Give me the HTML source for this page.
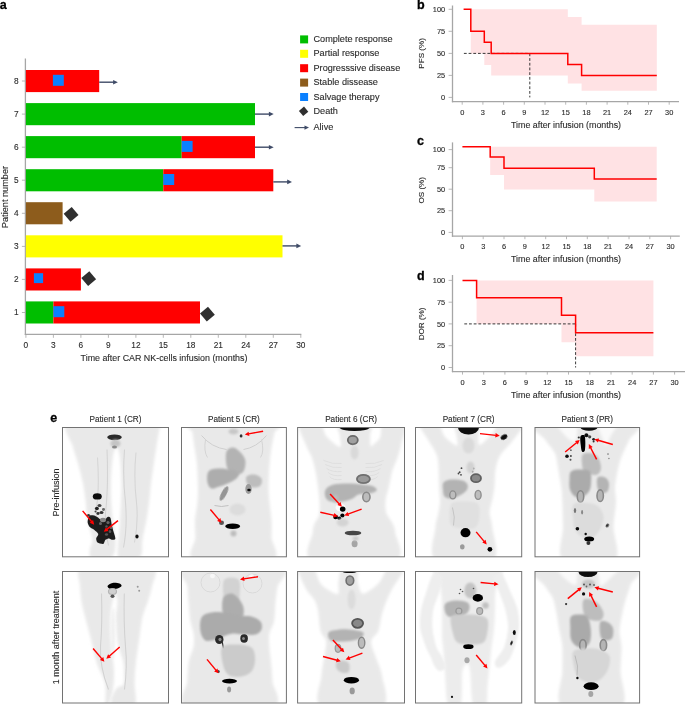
<!DOCTYPE html>
<html><head><meta charset="utf-8"><style>
html,body{margin:0;padding:0;background:#fff;width:685px;height:704px;overflow:hidden}
svg{display:block;will-change:transform}
text{font-family:"Liberation Sans",sans-serif;fill:#2b2b2b;stroke:#2b2b2b;stroke-width:0.12px}
.tk{font-size:7.4px}
.tka{font-size:8.3px}
.tt{font-size:8.9px}
.lg{font-size:9.15px}
.pl{font-size:12.5px;font-weight:bold;fill:#000;stroke:#000;stroke-width:0.3px}
.hd{font-size:8.2px}
</style></head><body>
<svg width="685" height="704" viewBox="0 0 685 704">
<g id="pa">
<line x1="25.4" y1="58.4" x2="25.4" y2="335" stroke="#a6a6a6" stroke-width="1.3"/>
<line x1="24.8" y1="334.4" x2="301.3" y2="334.4" stroke="#a6a6a6" stroke-width="1.3"/>
<line x1="25.9" y1="334.4" x2="25.9" y2="337.8" stroke="#a6a6a6" stroke-width="0.8"/>
<text x="25.9" y="348.0" class="tka" text-anchor="middle">0</text>
<line x1="53.4" y1="334.4" x2="53.4" y2="337.8" stroke="#a6a6a6" stroke-width="0.8"/>
<text x="53.4" y="348.0" class="tka" text-anchor="middle">3</text>
<line x1="80.9" y1="334.4" x2="80.9" y2="337.8" stroke="#a6a6a6" stroke-width="0.8"/>
<text x="80.9" y="348.0" class="tka" text-anchor="middle">6</text>
<line x1="108.4" y1="334.4" x2="108.4" y2="337.8" stroke="#a6a6a6" stroke-width="0.8"/>
<text x="108.4" y="348.0" class="tka" text-anchor="middle">9</text>
<line x1="135.9" y1="334.4" x2="135.9" y2="337.8" stroke="#a6a6a6" stroke-width="0.8"/>
<text x="135.9" y="348.0" class="tka" text-anchor="middle">12</text>
<line x1="163.3" y1="334.4" x2="163.3" y2="337.8" stroke="#a6a6a6" stroke-width="0.8"/>
<text x="163.3" y="348.0" class="tka" text-anchor="middle">15</text>
<line x1="190.8" y1="334.4" x2="190.8" y2="337.8" stroke="#a6a6a6" stroke-width="0.8"/>
<text x="190.8" y="348.0" class="tka" text-anchor="middle">18</text>
<line x1="218.3" y1="334.4" x2="218.3" y2="337.8" stroke="#a6a6a6" stroke-width="0.8"/>
<text x="218.3" y="348.0" class="tka" text-anchor="middle">21</text>
<line x1="245.8" y1="334.4" x2="245.8" y2="337.8" stroke="#a6a6a6" stroke-width="0.8"/>
<text x="245.8" y="348.0" class="tka" text-anchor="middle">24</text>
<line x1="273.3" y1="334.4" x2="273.3" y2="337.8" stroke="#a6a6a6" stroke-width="0.8"/>
<text x="273.3" y="348.0" class="tka" text-anchor="middle">27</text>
<line x1="300.8" y1="334.4" x2="300.8" y2="337.8" stroke="#a6a6a6" stroke-width="0.8"/>
<text x="300.8" y="348.0" class="tka" text-anchor="middle">30</text>
<line x1="21.9" y1="312.5" x2="25.5" y2="312.5" stroke="#a6a6a6" stroke-width="0.8"/>
<text x="18.6" y="315.3" class="tka" text-anchor="end">1</text>
<line x1="21.9" y1="279.4" x2="25.5" y2="279.4" stroke="#a6a6a6" stroke-width="0.8"/>
<text x="18.6" y="282.2" class="tka" text-anchor="end">2</text>
<line x1="21.9" y1="246.4" x2="25.5" y2="246.4" stroke="#a6a6a6" stroke-width="0.8"/>
<text x="18.6" y="249.2" class="tka" text-anchor="end">3</text>
<line x1="21.9" y1="213.3" x2="25.5" y2="213.3" stroke="#a6a6a6" stroke-width="0.8"/>
<text x="18.6" y="216.1" class="tka" text-anchor="end">4</text>
<line x1="21.9" y1="180.2" x2="25.5" y2="180.2" stroke="#a6a6a6" stroke-width="0.8"/>
<text x="18.6" y="183.0" class="tka" text-anchor="end">5</text>
<line x1="21.9" y1="147.2" x2="25.5" y2="147.2" stroke="#a6a6a6" stroke-width="0.8"/>
<text x="18.6" y="150.0" class="tka" text-anchor="end">6</text>
<line x1="21.9" y1="114.1" x2="25.5" y2="114.1" stroke="#a6a6a6" stroke-width="0.8"/>
<text x="18.6" y="116.9" class="tka" text-anchor="end">7</text>
<line x1="21.9" y1="81.0" x2="25.5" y2="81.0" stroke="#a6a6a6" stroke-width="0.8"/>
<text x="18.6" y="83.8" class="tka" text-anchor="end">8</text>
<rect x="25.9" y="70.0" width="73.3" height="22.1" fill="#ff0000"/>
<rect x="52.9" y="74.8" width="10.9" height="11.0" fill="#0a80ff"/>
<line x1="99.2" y1="82.2" x2="114.9" y2="82.2" stroke="#3f4b67" stroke-width="1.4"/>
<path d="M117.9,82.2 l-4.8,-2.3 l0,4.6 z" fill="#3f4b67"/>
<rect x="25.9" y="103.1" width="229.1" height="22.1" fill="#00be00"/>
<line x1="255.0" y1="114.1" x2="270.7" y2="114.1" stroke="#3f4b67" stroke-width="1.4"/>
<path d="M273.7,114.1 l-4.8,-2.3 l0,4.6 z" fill="#3f4b67"/>
<rect x="25.9" y="136.1" width="155.8" height="22.1" fill="#00be00"/>
<rect x="181.7" y="136.1" width="73.3" height="22.1" fill="#ff0000"/>
<rect x="181.7" y="140.9" width="10.9" height="11.0" fill="#0a80ff"/>
<line x1="255.0" y1="147.2" x2="270.7" y2="147.2" stroke="#3f4b67" stroke-width="1.4"/>
<path d="M273.7,147.2 l-4.8,-2.3 l0,4.6 z" fill="#3f4b67"/>
<rect x="25.9" y="169.2" width="137.4" height="22.1" fill="#00be00"/>
<rect x="163.3" y="169.2" width="110.0" height="22.1" fill="#ff0000"/>
<rect x="163.3" y="174.0" width="10.9" height="11.0" fill="#0a80ff"/>
<line x1="273.3" y1="181.9" x2="289.0" y2="181.9" stroke="#3f4b67" stroke-width="1.4"/>
<path d="M292.0,181.9 l-4.8,-2.3 l0,4.6 z" fill="#3f4b67"/>
<rect x="25.9" y="202.2" width="36.7" height="22.1" fill="#8d5c1c"/>
<polygon points="78.5,214.9 70.5,221.7 63.7,213.7 71.7,206.9" fill="#2f2f2f"/>
<rect x="25.9" y="235.3" width="256.6" height="22.1" fill="#ffff00"/>
<line x1="282.5" y1="245.9" x2="298.2" y2="245.9" stroke="#3f4b67" stroke-width="1.4"/>
<path d="M301.2,245.9 l-4.8,-2.3 l0,4.6 z" fill="#3f4b67"/>
<rect x="25.9" y="268.4" width="55.0" height="22.1" fill="#ff0000"/>
<rect x="33.9" y="273.2" width="9.2" height="9.9" fill="#0a80ff"/>
<polygon points="96.1,279.3 88.1,286.1 81.3,278.1 89.3,271.3" fill="#2f2f2f"/>
<rect x="25.9" y="301.4" width="27.5" height="22.1" fill="#00be00"/>
<rect x="53.4" y="301.4" width="146.6" height="22.1" fill="#ff0000"/>
<rect x="53.4" y="306.2" width="10.9" height="11.0" fill="#0a80ff"/>
<polygon points="214.8,314.8 206.8,321.6 200.0,313.6 208.0,306.8" fill="#2f2f2f"/>
<text x="164" y="361.0" class="tt" text-anchor="middle">Time after CAR NK-cells infusion (months)</text>
<text transform="translate(8.4,197) rotate(-90)" class="tt" style="font-size:9.2px" text-anchor="middle">Patient number</text>
<rect x="300.1" y="35.4" width="8" height="8" fill="#00be00"/>
<text x="313.5" y="42.0" class="lg">Complete response</text>
<rect x="300.1" y="49.8" width="8" height="8" fill="#ffff00"/>
<text x="313.5" y="56.4" class="lg">Partial response</text>
<rect x="300.1" y="64.2" width="8" height="8" fill="#ff0000"/>
<text x="313.5" y="70.8" class="lg">Progresssive disease</text>
<rect x="300.1" y="78.6" width="8" height="8" fill="#8d5c1c"/>
<text x="313.5" y="85.2" class="lg">Stable dissease</text>
<rect x="300.1" y="93.0" width="8" height="8" fill="#0a80ff"/>
<text x="313.5" y="99.6" class="lg">Salvage therapy</text>
<polygon points="308.3,111.7 303.2,116.0 298.9,110.9 304.0,106.6" fill="#2f2f2f"/>
<text x="313.5" y="113.9" class="lg">Death</text>
<line x1="294.6" y1="127.6" x2="306" y2="127.6" stroke="#3f4b67" stroke-width="1.1"/>
<path d="M309,127.6 l-4.5,-2.2 l0,4.4 z" fill="#3f4b67"/>
<text x="313.5" y="130.2" class="lg">Alive</text>
<text x="-0.3" y="9.2" class="pl">a</text>
</g>
<g>
<path d="M470.8,9.3 L470.8,9.3 L484.3,9.3 L484.3,9.3 L491.2,9.3 L491.2,9.3 L567.8,9.3 L567.8,16.9 L581.6,16.9 L581.6,24.8 L656.8,24.8 L656.8,90.7 L581.6,90.7 L581.6,83.6 L567.8,83.6 L567.8,75.6 L491.2,75.6 L491.2,65.1 L484.3,65.1 L484.3,53.4 L470.8,53.4 Z" fill="#ffe2e4"/>
<line x1="452.5" y1="5.5" x2="452.5" y2="102.3" stroke="#a6a6a6" stroke-width="1.3"/>
<line x1="451.9" y1="101.7" x2="679" y2="101.7" stroke="#a6a6a6" stroke-width="1.3"/>
<line x1="448.6" y1="97.4" x2="452.6" y2="97.4" stroke="#a6a6a6" stroke-width="0.8"/>
<text x="445.2" y="100.0" class="tk" text-anchor="end">0</text>
<line x1="448.6" y1="75.4" x2="452.6" y2="75.4" stroke="#a6a6a6" stroke-width="0.8"/>
<text x="445.2" y="78.0" class="tk" text-anchor="end">25</text>
<line x1="448.6" y1="53.4" x2="452.6" y2="53.4" stroke="#a6a6a6" stroke-width="0.8"/>
<text x="445.2" y="56.0" class="tk" text-anchor="end">50</text>
<line x1="448.6" y1="31.3" x2="452.6" y2="31.3" stroke="#a6a6a6" stroke-width="0.8"/>
<text x="445.2" y="33.9" class="tk" text-anchor="end">75</text>
<line x1="448.6" y1="9.3" x2="452.6" y2="9.3" stroke="#a6a6a6" stroke-width="0.8"/>
<text x="445.2" y="11.9" class="tk" text-anchor="end">100</text>
<line x1="462.2" y1="101.7" x2="462.2" y2="104.7" stroke="#a6a6a6" stroke-width="0.8"/>
<text x="462.2" y="115.0" class="tk" text-anchor="middle">0</text>
<line x1="482.9" y1="101.7" x2="482.9" y2="104.7" stroke="#a6a6a6" stroke-width="0.8"/>
<text x="482.9" y="115.0" class="tk" text-anchor="middle">3</text>
<line x1="503.6" y1="101.7" x2="503.6" y2="104.7" stroke="#a6a6a6" stroke-width="0.8"/>
<text x="503.6" y="115.0" class="tk" text-anchor="middle">6</text>
<line x1="524.3" y1="101.7" x2="524.3" y2="104.7" stroke="#a6a6a6" stroke-width="0.8"/>
<text x="524.3" y="115.0" class="tk" text-anchor="middle">9</text>
<line x1="545.0" y1="101.7" x2="545.0" y2="104.7" stroke="#a6a6a6" stroke-width="0.8"/>
<text x="545.0" y="115.0" class="tk" text-anchor="middle">12</text>
<line x1="565.7" y1="101.7" x2="565.7" y2="104.7" stroke="#a6a6a6" stroke-width="0.8"/>
<text x="565.7" y="115.0" class="tk" text-anchor="middle">15</text>
<line x1="586.4" y1="101.7" x2="586.4" y2="104.7" stroke="#a6a6a6" stroke-width="0.8"/>
<text x="586.4" y="115.0" class="tk" text-anchor="middle">18</text>
<line x1="607.1" y1="101.7" x2="607.1" y2="104.7" stroke="#a6a6a6" stroke-width="0.8"/>
<text x="607.1" y="115.0" class="tk" text-anchor="middle">21</text>
<line x1="627.8" y1="101.7" x2="627.8" y2="104.7" stroke="#a6a6a6" stroke-width="0.8"/>
<text x="627.8" y="115.0" class="tk" text-anchor="middle">24</text>
<line x1="648.5" y1="101.7" x2="648.5" y2="104.7" stroke="#a6a6a6" stroke-width="0.8"/>
<text x="648.5" y="115.0" class="tk" text-anchor="middle">27</text>
<line x1="669.2" y1="101.7" x2="669.2" y2="104.7" stroke="#a6a6a6" stroke-width="0.8"/>
<text x="669.2" y="115.0" class="tk" text-anchor="middle">30</text>
<line x1="463.9" y1="53.4" x2="529.8" y2="53.4" stroke="#222" stroke-width="0.9" stroke-dasharray="2.8,1.9"/>
<line x1="529.8" y1="53.4" x2="529.8" y2="97.4" stroke="#222" stroke-width="0.9" stroke-dasharray="2.8,1.9"/>
<polyline points="463.6,9.3 470.8,9.3 470.8,31.3 484.3,31.3 484.3,42.3 491.2,42.3 491.2,53.4 567.8,53.4 567.8,64.4 581.6,64.4 581.6,75.4 656.8,75.4" fill="none" stroke="#ff0000" stroke-width="1.5"/>
<text x="566" y="127.8" class="tt" text-anchor="middle">Time after infusion (months)</text>
<text transform="translate(424.2,53.4) rotate(-90)" class="tt" style="font-size:8.1px" text-anchor="middle">PFS (%)</text>
<text x="417" y="8.8" class="pl">b</text>
</g>
<g>
<path d="M490.2,146.8 L490.2,146.8 L504.0,146.8 L504.0,146.8 L594.3,146.8 L594.3,146.8 L656.7,146.8 L656.7,201.6 L594.3,201.6 L594.3,189.6 L504.0,189.6 L504.0,175.0 L490.2,175.0 Z" fill="#ffe2e4"/>
<line x1="452.5" y1="142.4" x2="452.5" y2="236.79999999999998" stroke="#a6a6a6" stroke-width="1.3"/>
<line x1="451.9" y1="236.2" x2="679.8" y2="236.2" stroke="#a6a6a6" stroke-width="1.3"/>
<line x1="448.6" y1="232.4" x2="452.6" y2="232.4" stroke="#a6a6a6" stroke-width="0.8"/>
<text x="445.2" y="235.0" class="tk" text-anchor="end">0</text>
<line x1="448.6" y1="210.7" x2="452.6" y2="210.7" stroke="#a6a6a6" stroke-width="0.8"/>
<text x="445.2" y="213.3" class="tk" text-anchor="end">25</text>
<line x1="448.6" y1="189.2" x2="452.6" y2="189.2" stroke="#a6a6a6" stroke-width="0.8"/>
<text x="445.2" y="191.8" class="tk" text-anchor="end">50</text>
<line x1="448.6" y1="167.7" x2="452.6" y2="167.7" stroke="#a6a6a6" stroke-width="0.8"/>
<text x="445.2" y="170.3" class="tk" text-anchor="end">75</text>
<line x1="448.6" y1="149.6" x2="452.6" y2="149.6" stroke="#a6a6a6" stroke-width="0.8"/>
<text x="445.2" y="152.2" class="tk" text-anchor="end">100</text>
<line x1="462.4" y1="236.2" x2="462.4" y2="239.2" stroke="#a6a6a6" stroke-width="0.8"/>
<text x="462.4" y="248.7" class="tk" text-anchor="middle">0</text>
<line x1="483.2" y1="236.2" x2="483.2" y2="239.2" stroke="#a6a6a6" stroke-width="0.8"/>
<text x="483.2" y="248.7" class="tk" text-anchor="middle">3</text>
<line x1="504.0" y1="236.2" x2="504.0" y2="239.2" stroke="#a6a6a6" stroke-width="0.8"/>
<text x="504.0" y="248.7" class="tk" text-anchor="middle">6</text>
<line x1="524.9" y1="236.2" x2="524.9" y2="239.2" stroke="#a6a6a6" stroke-width="0.8"/>
<text x="524.9" y="248.7" class="tk" text-anchor="middle">9</text>
<line x1="545.7" y1="236.2" x2="545.7" y2="239.2" stroke="#a6a6a6" stroke-width="0.8"/>
<text x="545.7" y="248.7" class="tk" text-anchor="middle">12</text>
<line x1="566.5" y1="236.2" x2="566.5" y2="239.2" stroke="#a6a6a6" stroke-width="0.8"/>
<text x="566.5" y="248.7" class="tk" text-anchor="middle">15</text>
<line x1="587.3" y1="236.2" x2="587.3" y2="239.2" stroke="#a6a6a6" stroke-width="0.8"/>
<text x="587.3" y="248.7" class="tk" text-anchor="middle">18</text>
<line x1="608.1" y1="236.2" x2="608.1" y2="239.2" stroke="#a6a6a6" stroke-width="0.8"/>
<text x="608.1" y="248.7" class="tk" text-anchor="middle">21</text>
<line x1="629.0" y1="236.2" x2="629.0" y2="239.2" stroke="#a6a6a6" stroke-width="0.8"/>
<text x="629.0" y="248.7" class="tk" text-anchor="middle">24</text>
<line x1="649.8" y1="236.2" x2="649.8" y2="239.2" stroke="#a6a6a6" stroke-width="0.8"/>
<text x="649.8" y="248.7" class="tk" text-anchor="middle">27</text>
<line x1="670.6" y1="236.2" x2="670.6" y2="239.2" stroke="#a6a6a6" stroke-width="0.8"/>
<text x="670.6" y="248.7" class="tk" text-anchor="middle">30</text>
<polyline points="462.4,146.8 490.2,146.8 490.2,157.1 504.0,157.1 504.0,168.2 594.3,168.2 594.3,178.9 656.7,178.9" fill="none" stroke="#ff0000" stroke-width="1.5"/>
<text x="566" y="262.1" class="tt" text-anchor="middle">Time after infusion (months)</text>
<text transform="translate(424.2,190.3) rotate(-90)" class="tt" style="font-size:8.1px" text-anchor="middle">OS (%)</text>
<text x="417" y="145" class="pl">c</text>
</g>
<g>
<path d="M476.6,280.4 L476.6,280.4 L561.5,280.4 L561.5,280.4 L575.6,280.4 L575.6,280.4 L653.4,280.4 L653.4,356.2 L575.6,356.2 L575.6,342.2 L561.5,342.2 L561.5,323.9 L476.6,323.9 Z" fill="#ffe2e4"/>
<line x1="452.5" y1="275" x2="452.5" y2="372.20000000000005" stroke="#a6a6a6" stroke-width="1.3"/>
<line x1="451.9" y1="371.6" x2="685" y2="371.6" stroke="#a6a6a6" stroke-width="1.3"/>
<line x1="448.6" y1="367.5" x2="452.6" y2="367.5" stroke="#a6a6a6" stroke-width="0.8"/>
<text x="445.2" y="370.1" class="tk" text-anchor="end">0</text>
<line x1="448.6" y1="345.7" x2="452.6" y2="345.7" stroke="#a6a6a6" stroke-width="0.8"/>
<text x="445.2" y="348.3" class="tk" text-anchor="end">25</text>
<line x1="448.6" y1="323.9" x2="452.6" y2="323.9" stroke="#a6a6a6" stroke-width="0.8"/>
<text x="445.2" y="326.6" class="tk" text-anchor="end">50</text>
<line x1="448.6" y1="302.2" x2="452.6" y2="302.2" stroke="#a6a6a6" stroke-width="0.8"/>
<text x="445.2" y="304.8" class="tk" text-anchor="end">75</text>
<line x1="448.6" y1="280.4" x2="452.6" y2="280.4" stroke="#a6a6a6" stroke-width="0.8"/>
<text x="445.2" y="283.0" class="tk" text-anchor="end">100</text>
<line x1="462.5" y1="371.6" x2="462.5" y2="374.6" stroke="#a6a6a6" stroke-width="0.8"/>
<text x="462.5" y="384.6" class="tk" text-anchor="middle">0</text>
<line x1="483.7" y1="371.6" x2="483.7" y2="374.6" stroke="#a6a6a6" stroke-width="0.8"/>
<text x="483.7" y="384.6" class="tk" text-anchor="middle">3</text>
<line x1="504.9" y1="371.6" x2="504.9" y2="374.6" stroke="#a6a6a6" stroke-width="0.8"/>
<text x="504.9" y="384.6" class="tk" text-anchor="middle">6</text>
<line x1="526.1" y1="371.6" x2="526.1" y2="374.6" stroke="#a6a6a6" stroke-width="0.8"/>
<text x="526.1" y="384.6" class="tk" text-anchor="middle">9</text>
<line x1="547.3" y1="371.6" x2="547.3" y2="374.6" stroke="#a6a6a6" stroke-width="0.8"/>
<text x="547.3" y="384.6" class="tk" text-anchor="middle">12</text>
<line x1="568.5" y1="371.6" x2="568.5" y2="374.6" stroke="#a6a6a6" stroke-width="0.8"/>
<text x="568.5" y="384.6" class="tk" text-anchor="middle">15</text>
<line x1="589.8" y1="371.6" x2="589.8" y2="374.6" stroke="#a6a6a6" stroke-width="0.8"/>
<text x="589.8" y="384.6" class="tk" text-anchor="middle">18</text>
<line x1="611.0" y1="371.6" x2="611.0" y2="374.6" stroke="#a6a6a6" stroke-width="0.8"/>
<text x="611.0" y="384.6" class="tk" text-anchor="middle">21</text>
<line x1="632.2" y1="371.6" x2="632.2" y2="374.6" stroke="#a6a6a6" stroke-width="0.8"/>
<text x="632.2" y="384.6" class="tk" text-anchor="middle">24</text>
<line x1="653.4" y1="371.6" x2="653.4" y2="374.6" stroke="#a6a6a6" stroke-width="0.8"/>
<text x="653.4" y="384.6" class="tk" text-anchor="middle">27</text>
<line x1="674.6" y1="371.6" x2="674.6" y2="374.6" stroke="#a6a6a6" stroke-width="0.8"/>
<text x="674.6" y="384.6" class="tk" text-anchor="middle">30</text>
<line x1="464.3" y1="323.9" x2="575.6" y2="323.9" stroke="#222" stroke-width="0.9" stroke-dasharray="2.8,1.9"/>
<line x1="575.6" y1="323.9" x2="575.6" y2="367.5" stroke="#222" stroke-width="0.9" stroke-dasharray="2.8,1.9"/>
<polyline points="462.5,280.4 476.6,280.4 476.6,297.8 561.5,297.8 561.5,315.2 575.6,315.2 575.6,332.7 653.4,332.7" fill="none" stroke="#ff0000" stroke-width="1.5"/>
<text x="566" y="397.8" class="tt" text-anchor="middle">Time after infusion (months)</text>
<text transform="translate(424.2,323.9) rotate(-90)" class="tt" style="font-size:8.1px" text-anchor="middle">DOR (%)</text>
<text x="417" y="279.7" class="pl">d</text>
</g>
<defs><filter id="b2" x="-30%" y="-30%" width="160%" height="160%"><feGaussianBlur stdDeviation="1.7"/></filter><filter id="b1" x="-30%" y="-30%" width="160%" height="160%"><feGaussianBlur stdDeviation="0.9"/></filter><filter id="b05" x="-50%" y="-50%" width="200%" height="200%"><feGaussianBlur stdDeviation="0.45"/></filter><filter id="b07" x="-50%" y="-50%" width="200%" height="200%"><feGaussianBlur stdDeviation="0.7"/></filter></defs>
<clipPath id="c00"><rect x="0" y="0" width="106.0" height="129.3"/></clipPath>
<g transform="translate(62.5,427.5)"><g clip-path="url(#c00)">
<path d="M5.0,-4.0 C11.9,-7.4 48.5,-7.0 56.0,-4.0 C63.5,-1.0 55.8,11.2 55.0,16.0 C54.2,20.8 51.5,22.0 50.5,28.0 C49.5,34.0 48.5,47.6 48.3,56.0 C48.1,64.4 48.7,76.7 49.3,84.0 C49.9,91.3 51.4,99.9 52.0,105.0 C52.6,110.1 53.3,114.4 53.0,118.0 C52.7,121.6 52.2,126.8 50.0,129.0 C47.8,131.2 41.3,132.8 38.0,133.0 C34.7,133.2 29.6,131.8 28.0,130.0 C26.4,128.2 27.2,123.7 27.5,121.0 C27.8,118.3 30.2,116.2 29.8,112.0 C29.4,107.8 26.1,98.6 25.1,93.0 C24.1,87.4 24.0,80.0 23.3,74.5 C22.6,69.0 21.6,61.6 20.5,56.0 C19.4,50.4 17.3,42.6 15.8,37.0 C14.3,31.4 11.8,24.8 10.2,18.6 C8.6,12.5 -1.9,-0.6 5.0,-4.0 Z" fill="#e9e9e9" filter="url(#b2)"/>
<path d="M50.0,-4.0 C56.6,-7.0 91.0,-4.9 98.0,-4.0 C105.0,-3.1 97.4,-1.4 96.8,2.0 C96.2,5.4 94.8,13.4 94.0,18.6 C93.2,23.9 92.0,31.4 91.2,37.0 C90.4,42.6 89.2,50.4 88.5,56.0 C87.8,61.6 87.3,69.0 86.6,74.5 C85.9,80.0 84.8,87.4 83.8,93.0 C82.8,98.6 80.8,106.8 80.0,112.0 C79.2,117.2 80.4,124.8 78.6,128.0 C76.8,131.2 71.4,132.7 68.0,133.0 C64.6,133.3 57.9,132.2 56.0,130.0 C54.1,127.8 55.3,122.8 55.5,118.0 C55.7,113.2 56.8,104.5 57.3,98.0 C57.8,91.5 58.2,81.3 58.5,75.0 C58.8,68.7 59.1,62.8 59.0,56.0 C58.9,49.2 58.2,36.0 57.5,30.0 C56.8,24.0 55.1,21.1 54.0,16.0 C52.9,10.9 43.4,-1.0 50.0,-4.0 Z" fill="#e9e9e9" filter="url(#b2)"/>
<path d="M35,30 Q37,60 34,80 Q33,95 37,110" stroke="#d6d6d6" stroke-width="1.1" fill="none" filter="url(#b05)"/>
<path d="M44.5,22 Q46,60 43,85 Q42,100 46,118" stroke="#d4d4d4" stroke-width="1.1" fill="none" filter="url(#b05)"/>
<path d="M62,22 Q60,50 63,75 Q65,100 61,120" stroke="#d4d4d4" stroke-width="1.1" fill="none" filter="url(#b05)"/>
<path d="M73.5,25 Q71,50 74,75 Q76,95 72,115" stroke="#d6d6d6" stroke-width="1.1" fill="none" filter="url(#b05)"/>
<ellipse cx="52" cy="9.8" rx="7.3" ry="2.9" fill="#2a2a2a" filter="url(#b05)"/>
<ellipse cx="53" cy="16" rx="5" ry="4" fill="#c4c4c4" filter="url(#b1)"/>
<ellipse cx="52" cy="19.5" rx="2.5" ry="1.6" fill="#8a8a8a" filter="url(#b05)"/>
<ellipse cx="34.8" cy="68.9" rx="4.5" ry="3.2" fill="#111" filter="url(#b05)"/>
<path d="M25.5,91.7 C25.8,90.8 26.5,88.6 27.3,88.1 C28.1,87.6 30.5,87.8 31.6,88.1 C32.7,88.4 34.6,89.5 35.8,90.3 C37.0,91.1 39.6,93.9 40.8,93.8 C42.0,93.7 44.2,90.0 45.1,89.5 C46.0,89.0 47.3,89.2 47.9,90.3 C48.5,91.4 48.9,95.7 49.3,97.4 C49.7,99.1 50.2,101.2 50.7,103.0 C51.2,104.8 53.0,109.7 52.9,110.9 C52.8,112.1 50.9,112.3 50.0,112.3 C49.1,112.3 47.4,110.9 46.5,110.9 C45.6,110.9 43.7,111.6 42.9,112.3 C42.1,113.0 41.8,116.1 40.8,116.5 C39.8,116.9 36.0,115.8 35.1,115.1 C34.2,114.4 33.6,112.0 33.7,110.9 C33.8,109.8 36.1,107.7 35.8,106.6 C35.5,105.5 32.7,103.2 31.6,102.3 C30.5,101.4 28.2,100.4 27.3,99.5 C26.4,98.6 25.4,96.2 25.2,95.2 C25.0,94.2 25.2,92.6 25.5,91.7 Z" fill="#1e1e1e" filter="url(#b05)"/>
<ellipse cx="40.5" cy="92.5" rx="3" ry="2.2" fill="#888" filter="url(#b05)"/>
<ellipse cx="38" cy="96" rx="1.5" ry="1.5" fill="#666" filter="url(#b05)"/>
<ellipse cx="44" cy="107" rx="1.6" ry="1.3" fill="#555" filter="url(#b05)"/>
<ellipse cx="48.5" cy="100" rx="1.2" ry="1.6" fill="#666" filter="url(#b05)"/>
<ellipse cx="45.5" cy="95" rx="1.6" ry="1.6" fill="#666" filter="url(#b05)"/>
<ellipse cx="47.5" cy="104" rx="1.3" ry="1.5" fill="#555" filter="url(#b05)"/>
<ellipse cx="44" cy="99" rx="1.2" ry="1.2" fill="#555" filter="url(#b05)"/>
<ellipse cx="34.4" cy="81" rx="2" ry="1.8" fill="#222" filter="url(#b05)"/>
<ellipse cx="37" cy="78" rx="2" ry="1.6" fill="#444" filter="url(#b05)"/>
<ellipse cx="39" cy="85" rx="2" ry="1.6" fill="#333" filter="url(#b05)"/>
<ellipse cx="41" cy="82" rx="1.5" ry="1.4" fill="#666" filter="url(#b05)"/>
<ellipse cx="35.5" cy="86" rx="1.6" ry="1.4" fill="#333" filter="url(#b05)"/>
<ellipse cx="33" cy="84" rx="1" ry="1" fill="#444" filter="url(#b05)"/>
<ellipse cx="26" cy="87.8" rx="1.4" ry="1.4" fill="#333" filter="url(#b05)"/>
<ellipse cx="74.5" cy="109" rx="1.6" ry="2" fill="#111" filter="url(#b05)"/>
<line x1="20.1" y1="83.4" x2="29.3" y2="94.3" stroke="#f00" stroke-width="1.45"/>
<path d="M31.7,97.2 L27.2,95.3 L30.6,92.5 Z" fill="#f00"/>
<line x1="55.5" y1="93.1" x2="44.3" y2="101.9" stroke="#f00" stroke-width="1.45"/>
<path d="M41.3,104.3 L43.3,99.9 L46.0,103.4 Z" fill="#f00"/>
</g>
<rect x="0" y="0" width="106.0" height="129.3" fill="none" stroke="#727272" stroke-width="1"/>
</g>
<clipPath id="c10"><rect x="0" y="0" width="104.9" height="129.3"/></clipPath>
<g transform="translate(181.5,427.5)"><g clip-path="url(#c10)">
<path d="M10.0,-4.0 C22.6,-5.3 82.5,-5.3 95.0,-4.0 C107.5,-2.7 93.8,1.4 93.0,5.0 C92.2,8.6 90.8,15.2 90.0,20.0 C89.2,24.8 88.5,31.0 88.0,37.0 C87.5,43.0 87.0,54.3 87.0,60.0 C87.0,65.7 87.5,70.0 88.0,75.0 C88.5,80.0 89.7,87.8 90.0,93.0 C90.3,98.2 90.0,104.0 90.0,110.0 C90.0,116.0 101.4,129.6 90.0,133.0 C78.6,136.4 25.4,136.4 14.0,133.0 C2.6,129.6 14.1,116.0 14.0,110.0 C13.9,104.0 13.2,98.2 13.5,93.0 C13.8,87.8 15.6,80.0 16.0,75.0 C16.4,70.0 16.6,65.7 16.5,60.0 C16.4,54.3 16.0,43.0 15.5,37.0 C15.0,31.0 13.7,24.8 13.0,20.0 C12.3,15.2 11.4,8.6 11.0,5.0 C10.6,1.4 -2.6,-2.7 10.0,-4.0 Z" fill="#e9e9e9" filter="url(#b2)"/>
<path d="M20,8 Q30,20 45,22" stroke="#cfcfcf" stroke-width="1.0" fill="none" filter="url(#b05)"/>
<path d="M85,8 Q75,20 62,22" stroke="#cfcfcf" stroke-width="1.0" fill="none" filter="url(#b05)"/>
<path d="M24,12 Q22,24 26,30" stroke="#d4d4d4" stroke-width="1.0" fill="none" filter="url(#b05)"/>
<path d="M80,12 Q83,24 79,30" stroke="#d4d4d4" stroke-width="1.0" fill="none" filter="url(#b05)"/>
<path d="M56,112 L56,133" stroke="#f6f6f6" stroke-width="2" fill="none" filter="url(#b1)"/>
<path d="M45.0,24.0 C46.2,21.0 49.5,19.7 52.0,20.0 C54.5,20.3 58.0,23.7 60.0,26.0 C62.0,28.3 63.7,31.0 64.0,34.0 C64.3,37.0 63.3,41.8 62.0,44.0 C60.7,46.2 58.2,46.7 56.0,47.0 C53.8,47.3 50.8,47.5 49.0,46.0 C47.2,44.5 45.7,41.7 45.0,38.0 C44.3,34.3 43.8,27.0 45.0,24.0 Z" fill="#b3b3b3" filter="url(#b1)"/>
<path d="M27.0,44.0 C28.7,41.7 32.5,41.3 36.0,41.0 C39.5,40.7 44.5,41.3 48.0,42.0 C51.5,42.7 55.8,43.5 57.0,45.0 C58.2,46.5 56.8,49.2 55.0,51.0 C53.2,52.8 48.8,54.7 46.0,56.0 C43.2,57.3 40.7,58.2 38.0,59.0 C35.3,59.8 32.0,61.7 30.0,61.0 C28.0,60.3 26.5,57.8 26.0,55.0 C25.5,52.2 25.3,46.3 27.0,44.0 Z" fill="#adadad" filter="url(#b1)"/>
<path d="M65.0,49.0 C66.2,47.3 70.5,46.7 73.0,47.0 C75.5,47.3 79.0,49.2 80.0,51.0 C81.0,52.8 80.3,56.5 79.0,58.0 C77.7,59.5 74.2,60.2 72.0,60.0 C69.8,59.8 67.2,58.8 66.0,57.0 C64.8,55.2 63.8,50.7 65.0,49.0 Z" fill="#bdbdbd" filter="url(#b1)"/>
<ellipse cx="42.5" cy="66" rx="2.6" ry="8" fill="#959595" filter="url(#b07)" transform="rotate(28 42.5 66)"/>
<ellipse cx="67" cy="61.5" rx="3.2" ry="5" fill="#9a9a9a" filter="url(#b07)"/>
<ellipse cx="67.5" cy="62.5" rx="1.8" ry="1.2" fill="#111" filter="url(#b05)"/>
<ellipse cx="56" cy="82" rx="8" ry="6" fill="#dcdcdc" filter="url(#b1)"/>
<path d="M33,78 Q40,80 47,78" stroke="#bbb" stroke-width="0.9" fill="none" filter="url(#b05)"/>
<ellipse cx="51.2" cy="98.7" rx="7.5" ry="2.8" fill="#000" filter="url(#b05)"/>
<ellipse cx="40" cy="95.3" rx="2.5" ry="2.2" fill="#555" filter="url(#b07)"/>
<ellipse cx="52" cy="106" rx="3" ry="3" fill="#bcbcbc" filter="url(#b1)"/>
<ellipse cx="59.6" cy="8.4" rx="1.4" ry="1.6" fill="#333" filter="url(#b05)"/>
<ellipse cx="52" cy="4" rx="5" ry="3" fill="#c8c8c8" filter="url(#b1)"/>
<line x1="81.6" y1="3.7" x2="67.0" y2="6.4" stroke="#f00" stroke-width="1.45"/>
<path d="M63.3,7.1 L67.1,4.2 L67.9,8.5 Z" fill="#f00"/>
<line x1="28.9" y1="82.0" x2="37.6" y2="92.4" stroke="#f00" stroke-width="1.45"/>
<path d="M40.0,95.3 L35.6,93.4 L38.9,90.6 Z" fill="#f00"/>
</g>
<rect x="0" y="0" width="104.9" height="129.3" fill="none" stroke="#727272" stroke-width="1"/>
</g>
<clipPath id="c20"><rect x="0" y="0" width="106.9" height="129.3"/></clipPath>
<g transform="translate(297.6,427.5)"><g clip-path="url(#c20)">
<path d="M1.5,-4.0 C-0.6,-0.8 6.3,11.9 8.2,17.0 C10.1,22.1 12.9,26.1 14.3,30.0 C15.7,33.9 16.9,38.6 17.8,43.0 C18.7,47.4 19.8,54.7 20.4,59.5 C21.0,64.3 21.8,70.7 22.0,75.0 C22.2,79.3 22.2,84.8 21.5,88.0 C20.8,91.2 17.9,93.5 17.0,96.0 C16.1,98.5 15.5,99.5 15.2,105.0 C14.9,110.5 2.9,128.8 15.2,133.0 C27.5,137.2 85.2,137.2 97.5,133.0 C109.8,128.8 97.9,110.5 97.5,105.0 C97.1,99.5 96.3,99.0 95.0,96.0 C93.7,93.0 89.5,88.6 88.5,85.0 C87.5,81.4 87.6,75.8 88.0,72.0 C88.4,68.2 90.2,63.8 91.2,59.5 C92.2,55.2 93.4,47.7 94.7,43.3 C96.0,38.9 98.7,33.9 100.0,30.0 C101.3,26.1 102.4,22.1 103.4,17.0 C104.5,11.9 109.6,-0.8 107.0,-4.0 C104.4,-7.2 89.7,-6.1 86.0,-4.0 C82.3,-1.9 83.9,6.9 82.5,10.0 C81.1,13.1 77.9,15.2 76.5,16.5 C75.1,17.8 73.6,19.8 73.0,18.5 C72.4,17.2 72.6,11.4 72.5,8.0 C72.4,4.6 77.2,-2.2 72.5,-4.0 C67.8,-5.8 45.9,-5.8 41.4,-4.0 C36.9,-2.2 41.9,4.6 42.2,8.0 C42.5,11.4 44.0,17.7 43.2,19.0 C42.4,20.3 39.2,18.0 37.0,16.4 C34.8,14.8 30.6,11.4 28.3,8.3 C26.1,5.2 26.0,-2.2 22.0,-4.0 C18.0,-5.8 3.6,-7.2 1.5,-4.0 Z" fill="#e9e9e9" filter="url(#b2)"/>
<ellipse cx="57" cy="0" rx="15" ry="3.4" fill="#111" filter="url(#b05)"/>
<ellipse cx="55.2" cy="12.6" rx="5" ry="4.2" fill="#a0a0a0" stroke="#6a6a6a" stroke-width="1.8" filter="url(#b07)"/>
<ellipse cx="57" cy="25" rx="4" ry="7" fill="#d9d9d9" filter="url(#b1)"/>
<path d="M26.0,33 Q35,37 44,36" stroke="#dadada" stroke-width="0.7" fill="none" filter="url(#b05)"/>
<path d="M86.0,33 Q77,37 68,36" stroke="#dadada" stroke-width="0.7" fill="none" filter="url(#b05)"/>
<path d="M27.5,37 Q35,41 44,40" stroke="#dadada" stroke-width="0.7" fill="none" filter="url(#b05)"/>
<path d="M84.5,37 Q77,41 68,40" stroke="#dadada" stroke-width="0.7" fill="none" filter="url(#b05)"/>
<path d="M29.0,41 Q35,45 44,44" stroke="#dadada" stroke-width="0.7" fill="none" filter="url(#b05)"/>
<path d="M83.0,41 Q77,45 68,44" stroke="#dadada" stroke-width="0.7" fill="none" filter="url(#b05)"/>
<path d="M30.5,45 Q35,49 44,48" stroke="#dadada" stroke-width="0.7" fill="none" filter="url(#b05)"/>
<path d="M81.5,45 Q77,49 68,48" stroke="#dadada" stroke-width="0.7" fill="none" filter="url(#b05)"/>
<path d="M32.0,49 Q35,53 44,52" stroke="#dadada" stroke-width="0.7" fill="none" filter="url(#b05)"/>
<path d="M80.0,49 Q77,53 68,52" stroke="#dadada" stroke-width="0.7" fill="none" filter="url(#b05)"/>
<ellipse cx="65.8" cy="51.5" rx="6.5" ry="4.2" fill="#9a9a9a" stroke="#6f6f6f" stroke-width="1.8" filter="url(#b07)"/>
<path d="M28.0,62.0 C29.3,59.8 32.3,58.0 36.0,57.0 C39.7,56.0 45.2,56.0 50.0,56.0 C54.8,56.0 60.7,56.5 65.0,57.0 C69.3,57.5 73.7,58.0 76.0,59.0 C78.3,60.0 79.7,61.8 79.0,63.0 C78.3,64.2 75.0,65.3 72.0,66.0 C69.0,66.7 63.8,66.2 61.0,67.0 C58.2,67.8 57.7,69.8 55.0,71.0 C52.3,72.2 48.7,73.5 45.0,74.0 C41.3,74.5 35.8,74.7 33.0,74.0 C30.2,73.3 28.8,72.0 28.0,70.0 C27.2,68.0 26.7,64.2 28.0,62.0 Z" fill="#b3b3b3" filter="url(#b1)"/>
<ellipse cx="68.8" cy="69.5" rx="3.6" ry="4.8" fill="#bcbcbc" stroke="#8a8a8a" stroke-width="1.6" filter="url(#b07)"/>
<ellipse cx="38" cy="71" rx="2.5" ry="4" fill="#bdbdbd" filter="url(#b1)"/>
<ellipse cx="43" cy="80" rx="5" ry="4" fill="#fbfbfb" filter="url(#b07)"/>
<ellipse cx="45.1" cy="81.6" rx="2.8" ry="2.6599999999999997" fill="#050505" filter="url(#b05)"/>
<ellipse cx="44.8" cy="87.9" rx="2.1" ry="1.9949999999999999" fill="#050505" filter="url(#b05)"/>
<ellipse cx="38" cy="89.5" rx="2.4" ry="2.28" fill="#050505" filter="url(#b05)"/>
<ellipse cx="41.7" cy="90.7" rx="1.9" ry="1.805" fill="#050505" filter="url(#b05)"/>
<ellipse cx="45" cy="95" rx="6" ry="4" fill="#d4d4d4" filter="url(#b1)"/>
<ellipse cx="55.4" cy="105.5" rx="8.3" ry="2.3" fill="#474747" filter="url(#b05)"/>
<ellipse cx="57" cy="116.3" rx="3" ry="3.5" fill="#a5a5a5" filter="url(#b07)"/>
<ellipse cx="58" cy="111" rx="3" ry="2" fill="#c8c8c8" filter="url(#b1)"/>
<line x1="32.5" y1="66.6" x2="41.7" y2="76.4" stroke="#f00" stroke-width="1.45"/>
<path d="M44.3,79.2 L39.8,77.6 L43.0,74.6 Z" fill="#f00"/>
<line x1="22.7" y1="84.7" x2="36.7" y2="87.9" stroke="#f00" stroke-width="1.45"/>
<path d="M40.4,88.7 L35.7,89.9 L36.7,85.6 Z" fill="#f00"/>
<line x1="64.0" y1="81.6" x2="50.3" y2="86.6" stroke="#f00" stroke-width="1.45"/>
<path d="M46.7,87.9 L50.0,84.4 L51.5,88.5 Z" fill="#f00"/>
</g>
<rect x="0" y="0" width="106.9" height="129.3" fill="none" stroke="#727272" stroke-width="1"/>
</g>
<clipPath id="c30"><rect x="0" y="0" width="106.2" height="129.3"/></clipPath>
<g transform="translate(415.5,427.5)"><g clip-path="url(#c30)">
<path d="M4.0,-4.0 C2.7,-1.4 10.6,8.7 13.0,13.0 C15.4,17.3 18.5,21.2 20.0,24.5 C21.5,27.8 22.3,29.7 22.8,35.0 C23.3,40.3 23.3,54.0 23.6,60.0 C23.9,66.0 24.7,70.8 24.5,75.0 C24.3,79.2 23.1,84.2 22.4,88.0 C21.7,91.8 20.3,93.2 20.0,100.0 C19.7,106.8 11.9,128.1 20.5,133.0 C29.1,137.9 68.6,137.9 77.0,133.0 C85.4,128.1 77.2,107.2 76.8,100.0 C76.3,92.8 74.0,89.2 74.0,85.0 C74.0,80.8 76.1,75.8 76.8,72.0 C77.5,68.2 78.5,63.8 78.9,59.5 C79.4,55.2 79.0,48.0 79.8,43.3 C80.6,38.6 81.8,32.6 84.2,28.4 C86.6,24.2 92.1,19.6 95.5,15.3 C98.9,11.0 105.3,2.9 107.0,0.0 C108.7,-2.9 110.4,-3.4 107.0,-4.0 C103.6,-4.6 88.7,-5.5 84.2,-4.0 C79.7,-2.5 80.0,2.8 77.0,6.0 C74.0,9.2 66.1,17.5 64.0,17.5 C61.9,17.5 63.2,9.2 63.0,6.0 C62.8,2.8 65.9,-2.5 62.5,-4.0 C59.1,-5.5 43.5,-5.9 40.3,-4.0 C37.1,-2.1 40.9,5.5 41.2,8.8 C41.5,12.1 42.7,16.9 42.0,18.0 C41.3,19.1 38.8,17.2 36.8,15.8 C34.8,14.4 31.1,11.8 28.9,8.8 C26.7,5.8 25.6,-2.1 21.9,-4.0 C18.2,-5.9 5.3,-6.6 4.0,-4.0 Z" fill="#e9e9e9" filter="url(#b2)"/>
<ellipse cx="53" cy="0" rx="10.5" ry="7" fill="#080808" filter="url(#b05)"/>
<ellipse cx="53" cy="18" rx="6" ry="8" fill="#dadada" filter="url(#b1)"/>
<ellipse cx="44.2" cy="44.7" rx="0.9" ry="0.9" fill="#444" filter="url(#b05)"/>
<ellipse cx="46" cy="40.7" rx="0.9" ry="0.9" fill="#444" filter="url(#b05)"/>
<ellipse cx="45.5" cy="47.3" rx="0.9" ry="0.9" fill="#444" filter="url(#b05)"/>
<ellipse cx="43" cy="46" rx="0.9" ry="0.9" fill="#444" filter="url(#b05)"/>
<ellipse cx="58" cy="41" rx="0.9" ry="0.9" fill="#444" filter="url(#b05)"/>
<ellipse cx="57" cy="44" rx="0.9" ry="0.9" fill="#444" filter="url(#b05)"/>
<ellipse cx="55" cy="40" rx="4" ry="6" fill="#d2d2d2" filter="url(#b1)"/>
<ellipse cx="60.5" cy="50.7" rx="5" ry="4" fill="#8a8a8a" stroke="#606060" stroke-width="1.8" filter="url(#b07)"/>
<path d="M28.0,55.0 C29.4,53.3 32.8,52.3 36.0,52.0 C39.2,51.7 44.3,52.2 47.0,53.0 C49.7,53.8 51.3,55.3 52.0,57.0 C52.7,58.7 52.3,61.2 51.0,63.0 C49.7,64.8 46.5,66.7 44.0,68.0 C41.5,69.3 38.5,70.8 36.0,71.0 C33.5,71.2 30.4,70.5 29.0,69.0 C27.6,67.5 27.7,64.3 27.5,62.0 C27.3,59.7 26.6,56.7 28.0,55.0 Z" fill="#b3b3b3" filter="url(#b1)"/>
<ellipse cx="37.3" cy="67.4" rx="3" ry="4" fill="#bdbdbd" stroke="#8f8f8f" stroke-width="1.4" filter="url(#b07)"/>
<ellipse cx="62.6" cy="67.4" rx="3" ry="4.5" fill="#bdbdbd" stroke="#8f8f8f" stroke-width="1.4" filter="url(#b07)"/>
<path d="M36.0,76.0 C38.3,73.7 43.7,74.0 48.0,74.0 C52.3,74.0 59.3,73.7 62.0,76.0 C64.7,78.3 64.3,84.0 64.0,88.0 C63.7,92.0 62.7,97.8 60.0,100.0 C57.3,102.2 52.0,101.3 48.0,101.0 C44.0,100.7 38.3,100.2 36.0,98.0 C33.7,95.8 34.0,91.7 34.0,88.0 C34.0,84.3 33.7,78.3 36.0,76.0 Z" fill="#e0e0e0" filter="url(#b1)"/>
<path d="M37,80 Q40,90 38,98" stroke="#c4c4c4" stroke-width="1" fill="none" filter="url(#b05)"/>
<ellipse cx="50" cy="105.2" rx="5" ry="4.6" fill="#000" filter="url(#b05)"/>
<ellipse cx="46.8" cy="119.4" rx="2.3" ry="2.6" fill="#9a9a9a" filter="url(#b07)"/>
<ellipse cx="74.4" cy="121.8" rx="2.4" ry="2.4" fill="#000" filter="url(#b05)"/>
<ellipse cx="88.5" cy="9.6" rx="3.5" ry="2.4" fill="#080808" filter="url(#b05)" transform="rotate(-30 88.5 9.6)"/>
<line x1="64.5" y1="6.1" x2="80.4" y2="7.9" stroke="#f00" stroke-width="1.45"/>
<path d="M84.2,8.3 L79.7,10.0 L80.2,5.6 Z" fill="#f00"/>
<line x1="60.7" y1="104.4" x2="68.8" y2="114.1" stroke="#f00" stroke-width="1.45"/>
<path d="M71.2,117.0 L66.8,115.1 L70.1,112.3 Z" fill="#f00"/>
</g>
<rect x="0" y="0" width="106.2" height="129.3" fill="none" stroke="#727272" stroke-width="1"/>
</g>
<clipPath id="c40"><rect x="0" y="0" width="104.6" height="129.3"/></clipPath>
<g transform="translate(535,427.5)"><g clip-path="url(#c40)">
<path d="M2.0,-4.0 C-11.3,-1.5 7.8,8.1 10.5,12.6 C13.2,17.1 18.2,21.9 20.0,25.8 C21.8,29.7 21.9,33.8 22.8,38.9 C23.7,44.0 25.6,54.1 26.3,59.5 C27.0,64.9 27.1,68.9 27.4,75.0 C27.7,81.1 27.8,91.3 28.0,100.0 C28.2,108.7 20.8,128.1 28.5,133.0 C36.2,137.9 71.9,137.9 79.4,133.0 C86.9,128.1 78.3,108.7 78.5,100.0 C78.7,91.3 80.8,81.1 81.0,75.0 C81.2,68.9 79.6,64.9 80.0,59.5 C80.4,54.1 82.3,44.0 83.5,38.9 C84.7,33.8 86.3,29.7 87.9,25.8 C89.5,21.9 92.3,17.1 94.0,12.6 C95.7,8.1 112.8,-1.5 99.0,-4.0 C85.2,-6.5 15.3,-6.5 2.0,-4.0 Z" fill="#e9e9e9" filter="url(#b2)"/>
<path d="M22.0,-4.0 C23.3,-6.3 36.7,-5.7 40.0,-4.0 C43.3,-2.3 42.0,3.0 42.0,6.0 C42.0,9.0 41.7,13.3 40.0,14.0 C38.3,14.7 35.0,13.0 32.0,10.0 C29.0,7.0 20.7,-1.7 22.0,-4.0 Z" fill="#fafafa" filter="url(#b2)"/>
<path d="M64.0,-4.0 C66.5,-6.3 80.0,-6.0 82.0,-4.0 C84.0,-2.0 77.8,4.3 76.0,8.0 C74.2,11.7 72.5,17.7 71.0,18.0 C69.5,18.3 68.2,13.7 67.0,10.0 C65.8,6.3 61.5,-1.7 64.0,-4.0 Z" fill="#fafafa" filter="url(#b2)"/>
<ellipse cx="54" cy="0" rx="8.5" ry="3.2" fill="#080808" filter="url(#b05)"/>
<path d="M45.5,9.1 C46.1,7.4 48.6,7.2 49.4,8.0 C50.2,8.8 50.2,11.5 50.3,14.0 C50.4,16.5 50.3,21.4 49.8,23.1 C49.2,24.8 47.7,24.9 47.0,24.0 C46.3,23.1 46.0,20.5 45.8,18.0 C45.5,15.5 44.9,10.8 45.5,9.1 Z" fill="#050505" filter="url(#b05)"/>
<ellipse cx="51.4" cy="7.8" rx="2" ry="2" fill="#111" filter="url(#b05)"/>
<ellipse cx="54.7" cy="9.3" rx="1.6" ry="1.6" fill="#444" filter="url(#b05)"/>
<ellipse cx="58.6" cy="11.8" rx="1.4" ry="1.4" fill="#222" filter="url(#b05)"/>
<ellipse cx="58.6" cy="14" rx="1" ry="1" fill="#333" filter="url(#b05)"/>
<ellipse cx="43.8" cy="10" rx="1.1" ry="1.1" fill="#333" filter="url(#b05)"/>
<ellipse cx="32" cy="28.8" rx="1.8" ry="1.8" fill="#111" filter="url(#b05)"/>
<ellipse cx="35.9" cy="28.4" rx="1" ry="1" fill="#444" filter="url(#b05)"/>
<ellipse cx="35.5" cy="32.3" rx="1" ry="1" fill="#555" filter="url(#b05)"/>
<ellipse cx="35.9" cy="22.7" rx="0.9" ry="0.9" fill="#666" filter="url(#b05)"/>
<ellipse cx="73" cy="26.6" rx="0.8" ry="0.8" fill="#777" filter="url(#b05)"/>
<ellipse cx="73.9" cy="31" rx="0.8" ry="0.8" fill="#888" filter="url(#b05)"/>
<path d="M47.6,27.0 C49.1,25.3 53.4,25.3 56.0,25.8 C58.6,26.3 61.3,27.6 63.0,30.0 C64.7,32.4 66.0,37.2 66.0,40.0 C66.0,42.8 64.7,45.6 63.0,46.8 C61.3,48.0 58.3,47.5 56.0,47.0 C53.7,46.5 50.5,45.8 49.0,44.0 C47.5,42.2 47.2,38.8 47.0,36.0 C46.8,33.2 46.1,28.7 47.6,27.0 Z" fill="#bdbdbd" filter="url(#b1)"/>
<path d="M36.0,44.0 C37.8,42.3 41.8,42.0 45.0,42.0 C48.2,42.0 53.2,41.7 55.0,44.0 C56.8,46.3 56.2,52.7 56.0,56.0 C55.8,59.3 55.3,61.9 54.0,64.0 C52.7,66.2 50.3,68.1 48.0,68.9 C45.7,69.7 42.2,70.2 40.0,69.0 C37.8,67.8 35.9,64.8 35.0,62.0 C34.1,59.2 34.3,55.0 34.5,52.0 C34.7,49.0 34.2,45.7 36.0,44.0 Z" fill="#ababab" filter="url(#b1)"/>
<path d="M62.5,50.3 C63.7,48.3 68.1,49.2 70.0,50.0 C71.9,50.8 73.4,52.8 73.9,55.0 C74.4,57.2 74.0,61.2 73.0,63.0 C72.0,64.8 69.7,66.0 68.0,65.8 C66.3,65.6 63.9,64.6 63.0,62.0 C62.1,59.4 61.3,52.3 62.5,50.3 Z" fill="#b4b4b4" filter="url(#b1)"/>
<ellipse cx="45.5" cy="69" rx="3.2" ry="5.8" fill="#b5b5b5" stroke="#8a8a8a" stroke-width="1.6" filter="url(#b07)"/>
<ellipse cx="65.2" cy="68.2" rx="3.2" ry="5.8" fill="#b5b5b5" stroke="#8a8a8a" stroke-width="1.6" filter="url(#b07)"/>
<path d="M38.4,77.0 C40.4,74.5 46.1,75.1 50.0,75.3 C53.9,75.5 58.9,75.9 62.0,78.0 C65.1,80.1 67.7,84.3 68.4,88.0 C69.1,91.7 67.7,96.3 66.0,100.0 C64.3,103.7 61.0,108.3 58.0,110.0 C55.0,111.7 51.0,111.3 48.0,110.0 C45.0,108.7 41.7,105.3 40.0,102.0 C38.3,98.7 38.3,94.2 38.0,90.0 C37.7,85.8 36.4,79.5 38.4,77.0 Z" fill="#dcdcdc" filter="url(#b1)"/>
<ellipse cx="40" cy="83.1" rx="1.2" ry="2.5" fill="#777" filter="url(#b05)"/>
<ellipse cx="47.1" cy="84.7" rx="1" ry="2.2" fill="#888" filter="url(#b05)"/>
<ellipse cx="54.2" cy="111.5" rx="5" ry="2.5" fill="#000" filter="url(#b05)"/>
<ellipse cx="53.4" cy="115.5" rx="2" ry="2" fill="#333" filter="url(#b05)"/>
<ellipse cx="42.4" cy="101.3" rx="1.8" ry="1.8" fill="#080808" filter="url(#b05)"/>
<ellipse cx="72.3" cy="98.1" rx="1.4" ry="2" fill="#333" filter="url(#b05)" transform="rotate(30 72.3 98.1)"/>
<ellipse cx="50.7" cy="106.5" rx="1.2" ry="1.2" fill="#111" filter="url(#b05)"/>
<line x1="30.2" y1="24.5" x2="41.8" y2="15.0" stroke="#f00" stroke-width="1.45"/>
<path d="M44.7,12.6 L42.8,17.0 L40.0,13.6 Z" fill="#f00"/>
<line x1="61.6" y1="31.9" x2="55.5" y2="20.0" stroke="#f00" stroke-width="1.45"/>
<path d="M53.8,16.6 L57.7,19.4 L53.8,21.4 Z" fill="#f00"/>
<line x1="77.8" y1="17.0" x2="63.1" y2="12.8" stroke="#f00" stroke-width="1.45"/>
<path d="M59.4,11.8 L64.1,10.9 L62.9,15.1 Z" fill="#f00"/>
</g>
<rect x="0" y="0" width="104.6" height="129.3" fill="none" stroke="#727272" stroke-width="1"/>
</g>
<clipPath id="c01"><rect x="0" y="0" width="106.0" height="131.5"/></clipPath>
<g transform="translate(62.5,571.5)"><g clip-path="url(#c01)">
<path d="M18.4,-4.0 C24.2,-6.8 50.7,-7.3 56.0,-4.0 C61.3,-0.7 54.9,12.9 54.0,18.0 C53.1,23.1 50.9,25.9 50.0,30.0 C49.1,34.0 48.2,39.0 48.0,45.0 C47.8,51.0 48.1,63.4 48.5,70.0 C48.9,76.6 50.0,84.5 50.5,89.0 C51.0,93.5 51.4,96.4 51.5,100.0 C51.6,103.6 51.4,109.4 51.0,113.0 C50.6,116.6 49.8,121.0 49.0,124.0 C48.2,127.0 46.9,131.7 46.0,133.0 C45.1,134.3 43.5,136.2 43.0,133.0 C42.5,129.8 43.9,118.2 42.6,112.0 C41.3,105.8 36.7,99.0 34.5,92.0 C32.3,85.0 29.6,72.0 27.8,65.0 C26.0,58.0 23.8,50.1 22.5,45.0 C21.2,39.9 19.9,35.5 19.2,31.0 C18.5,26.5 17.7,20.2 17.6,15.0 C17.5,9.8 12.6,-1.1 18.4,-4.0 Z" fill="#e9e9e9" filter="url(#b2)"/>
<path d="M50.0,-4.0 C55.9,-7.3 85.1,-6.8 91.0,-4.0 C96.9,-1.1 90.3,9.8 89.4,15.0 C88.5,20.2 86.4,26.5 85.0,31.0 C83.6,35.5 81.2,39.9 80.0,45.0 C78.8,50.1 78.0,58.0 77.0,65.0 C76.0,72.0 74.0,85.0 73.3,92.0 C72.5,99.0 72.2,105.8 72.0,112.0 C71.8,118.2 75.3,129.8 72.0,133.0 C68.7,136.2 53.3,134.3 50.0,133.0 C46.7,131.7 49.2,126.5 50.0,124.0 C50.8,121.5 53.4,117.7 55.0,116.0 C56.6,114.3 60.0,115.4 61.0,113.0 C62.0,110.6 61.6,103.6 61.5,100.0 C61.4,96.4 61.5,93.5 60.5,89.0 C59.5,84.5 56.0,76.6 55.0,70.0 C54.0,63.4 53.5,51.0 53.5,45.0 C53.5,39.0 55.2,34.0 55.0,30.0 C54.8,25.9 52.8,23.1 52.0,18.0 C51.2,12.9 44.1,-0.7 50.0,-4.0 Z" fill="#e9e9e9" filter="url(#b2)"/>
<ellipse cx="50.5" cy="62" rx="2.2" ry="26" fill="#f1f1f1" filter="url(#b1)"/>
<path d="M39,22 Q40,50 38,75 Q37,95 46,118" stroke="#d2d2d2" stroke-width="1.1" fill="none" filter="url(#b05)"/>
<path d="M61.8,22 Q61,50 63,75 Q65,95 62,118" stroke="#d2d2d2" stroke-width="1.1" fill="none" filter="url(#b05)"/>
<path d="M45.0,14.5 C45.3,13.5 48.0,11.9 50.0,11.5 C52.0,11.1 55.5,11.5 57.0,12.0 C58.5,12.5 59.3,13.7 59.0,14.5 C58.7,15.3 56.8,16.5 55.0,17.0 C53.2,17.5 49.7,17.9 48.0,17.5 C46.3,17.1 44.7,15.5 45.0,14.5 Z" fill="#050505" filter="url(#b05)"/>
<ellipse cx="50" cy="20" rx="4" ry="3" fill="#d0d0d0" stroke="#b5b5b5" stroke-width="1.2" filter="url(#b07)"/>
<ellipse cx="50" cy="24.7" rx="2" ry="1.8" fill="#555" filter="url(#b05)"/>
<ellipse cx="75.2" cy="15.3" rx="1" ry="1" fill="#999" filter="url(#b05)"/>
<ellipse cx="76.7" cy="19.2" rx="1" ry="1" fill="#999" filter="url(#b05)"/>
<line x1="30.6" y1="77.0" x2="39.4" y2="87.4" stroke="#f00" stroke-width="1.45"/>
<path d="M41.9,90.3 L37.4,88.4 L40.8,85.6 Z" fill="#f00"/>
<line x1="57.2" y1="75.5" x2="46.7" y2="84.7" stroke="#f00" stroke-width="1.45"/>
<path d="M43.8,87.2 L45.6,82.7 L48.5,86.0 Z" fill="#f00"/>
</g>
<rect x="0" y="0" width="106.0" height="131.5" fill="none" stroke="#727272" stroke-width="1"/>
</g>
<clipPath id="c11"><rect x="0" y="0" width="104.9" height="131.5"/></clipPath>
<g transform="translate(181.5,571.5)"><g clip-path="url(#c11)">
<path d="M5.0,-4.0 C19.0,-6.8 85.3,-6.8 99.0,-4.0 C112.7,-1.1 96.8,9.9 96.0,15.0 C95.2,20.1 94.5,24.8 94.0,30.0 C93.5,35.2 93.4,45.2 92.5,50.0 C91.6,54.8 88.5,58.2 87.8,62.0 C87.1,65.8 87.6,70.8 87.8,75.0 C88.0,79.2 88.9,84.8 89.4,90.0 C89.9,95.2 90.8,103.2 91.0,110.0 C91.2,116.8 103.8,131.2 91.0,135.0 C78.2,138.8 18.8,138.8 6.0,135.0 C-6.8,131.2 5.6,116.8 5.8,110.0 C6.0,103.2 6.5,95.2 7.4,90.0 C8.3,84.8 11.4,79.2 12.1,75.0 C12.8,70.8 12.6,65.8 12.1,62.0 C11.6,58.2 9.8,54.8 9.0,50.0 C8.2,45.2 7.5,35.2 7.0,30.0 C6.5,24.8 6.3,20.1 6.0,15.0 C5.7,9.9 -9.0,-1.1 5.0,-4.0 Z" fill="#e9e9e9" filter="url(#b2)"/>
<ellipse cx="29" cy="11" rx="9.5" ry="9.5" fill="none" stroke="#dadada" stroke-width="1" filter="url(#b05)"/>
<ellipse cx="71" cy="12" rx="9.5" ry="9.5" fill="none" stroke="#dadada" stroke-width="1" filter="url(#b05)"/>
<ellipse cx="31" cy="4.5" rx="2.5" ry="2.3" fill="#f7f7f7" filter="url(#b07)"/>
<ellipse cx="70" cy="5" rx="2.5" ry="2.3" fill="#f7f7f7" filter="url(#b07)"/>
<path d="M43.0,8.0 C45.5,5.2 54.5,5.2 57.0,8.0 C59.5,10.8 58.3,20.0 58.0,25.0 C57.7,30.0 57.2,35.8 55.0,38.0 C52.8,40.2 47.2,40.2 45.0,38.0 C42.8,35.8 42.3,30.0 42.0,25.0 C41.7,20.0 40.5,10.8 43.0,8.0 Z" fill="#d2d2d2" filter="url(#b1)"/>
<path d="M42.0,26.0 C43.5,23.0 47.5,21.8 50.0,22.0 C52.5,22.2 55.0,24.7 57.0,27.0 C59.0,29.3 61.3,32.8 62.0,36.0 C62.7,39.2 62.3,43.7 61.0,46.0 C59.7,48.3 56.5,49.7 54.0,50.0 C51.5,50.3 48.2,49.7 46.0,48.0 C43.8,46.3 41.7,43.7 41.0,40.0 C40.3,36.3 40.5,29.0 42.0,26.0 Z" fill="#adadad" filter="url(#b1)"/>
<path d="M20.0,46.0 C21.8,42.8 25.8,41.8 30.0,41.0 C34.2,40.2 40.3,40.5 45.0,41.0 C49.7,41.5 53.8,43.3 58.0,44.0 C62.2,44.7 66.5,44.0 70.0,45.0 C73.5,46.0 77.3,47.8 79.0,50.0 C80.7,52.2 80.8,55.8 80.0,58.0 C79.2,60.2 77.0,62.2 74.0,63.0 C71.0,63.8 65.7,63.2 62.0,63.0 C58.3,62.8 55.0,61.8 52.0,62.0 C49.0,62.2 47.0,63.0 44.0,64.0 C41.0,65.0 37.3,67.2 34.0,68.0 C30.7,68.8 26.5,70.3 24.0,69.0 C21.5,67.7 19.7,63.8 19.0,60.0 C18.3,56.2 18.2,49.2 20.0,46.0 Z" fill="#ababab" filter="url(#b1)"/>
<ellipse cx="37.8" cy="68" rx="4.2" ry="4.5" fill="#2a2a2a" filter="url(#b07)"/>
<ellipse cx="62.6" cy="67" rx="3.8" ry="4.2" fill="#2a2a2a" filter="url(#b07)"/>
<ellipse cx="38.5" cy="68" rx="1.6" ry="1.8" fill="#8a8a8a" filter="url(#b05)"/>
<ellipse cx="62" cy="67" rx="1.4" ry="1.6" fill="#8a8a8a" filter="url(#b05)"/>
<path d="M40.5,69 L42,77" stroke="#333" stroke-width="1.2" fill="none" filter="url(#b05)"/>
<path d="M40.5,76.0 C42.7,72.3 50.1,73.0 55.0,73.0 C59.9,73.0 66.9,73.5 70.0,76.0 C73.1,78.5 73.6,84.0 73.6,88.0 C73.6,92.0 72.3,97.2 70.0,100.0 C67.7,102.8 63.7,104.3 60.0,105.0 C56.3,105.7 51.0,105.7 48.0,104.0 C45.0,102.3 43.2,99.7 42.0,95.0 C40.8,90.3 38.3,79.7 40.5,76.0 Z" fill="#cbcbcb" filter="url(#b1)"/>
<ellipse cx="48" cy="109.6" rx="7.5" ry="2.4" fill="#000" filter="url(#b05)"/>
<ellipse cx="47.6" cy="118" rx="2" ry="3" fill="#9a9a9a" filter="url(#b07)"/>
<ellipse cx="37" cy="100" rx="1.2" ry="1.5" fill="#444" filter="url(#b05)"/>
<line x1="76.5" y1="5.3" x2="62.3" y2="7.4" stroke="#f00" stroke-width="1.45"/>
<path d="M58.5,7.9 L62.4,5.1 L63.1,9.5 Z" fill="#f00"/>
<line x1="25.5" y1="87.9" x2="34.6" y2="98.9" stroke="#f00" stroke-width="1.45"/>
<path d="M37.0,101.8 L32.6,99.9 L36.0,97.1 Z" fill="#f00"/>
</g>
<rect x="0" y="0" width="104.9" height="131.5" fill="none" stroke="#727272" stroke-width="1"/>
</g>
<clipPath id="c21"><rect x="0" y="0" width="106.9" height="131.5"/></clipPath>
<g transform="translate(297.6,571.5)"><g clip-path="url(#c21)">
<path d="M0.5,-4.0 C-0.6,-0.8 5.7,12.1 8.2,17.0 C10.7,21.9 15.1,25.1 16.9,28.4 C18.7,31.7 19.5,34.2 20.4,38.9 C21.3,43.6 21.8,54.8 23.0,59.5 C24.2,64.2 28.1,65.7 28.6,70.0 C29.1,74.3 26.9,82.8 26.2,88.0 C25.5,93.2 24.2,98.0 23.8,105.0 C23.4,112.0 14.7,130.5 23.8,135.0 C32.9,139.5 75.4,139.5 84.5,135.0 C93.6,130.5 85.3,112.0 84.5,105.0 C83.7,98.0 80.7,93.2 79.0,88.0 C77.3,82.8 73.2,74.3 73.5,70.0 C73.8,65.7 79.1,63.5 80.7,59.5 C82.3,55.5 83.0,47.7 84.2,43.3 C85.4,38.9 87.0,34.0 88.6,30.1 C90.2,26.2 91.9,22.1 94.7,17.0 C97.5,11.9 107.5,-0.8 107.0,-4.0 C106.5,-7.2 94.9,-6.1 91.2,-4.0 C87.5,-1.9 85.0,6.7 82.4,10.0 C79.8,13.3 76.4,16.2 73.7,18.0 C71.0,19.8 66.6,23.2 64.5,22.0 C62.4,20.8 60.8,13.9 60.0,10.0 C59.2,6.1 61.8,-1.9 59.5,-4.0 C57.2,-6.1 47.8,-6.1 45.0,-4.0 C42.2,-1.9 41.7,6.0 41.0,10.0 C40.3,14.0 42.1,21.3 40.5,22.5 C38.9,23.7 32.7,19.7 30.0,18.0 C27.3,16.3 24.4,14.2 22.2,10.9 C20.0,7.6 18.5,-1.8 15.2,-4.0 C11.9,-6.2 1.6,-7.2 0.5,-4.0 Z" fill="#e9e9e9" filter="url(#b2)"/>
<ellipse cx="52" cy="0" rx="7.5" ry="1.6" fill="#111" filter="url(#b05)"/>
<ellipse cx="52.3" cy="9.1" rx="3.8" ry="4.6" fill="#a0a0a0" stroke="#6f6f6f" stroke-width="1.6" filter="url(#b07)"/>
<ellipse cx="54" cy="28" rx="4" ry="10" fill="#dcdcdc" filter="url(#b1)"/>
<ellipse cx="60" cy="51.8" rx="5.5" ry="4.5" fill="#888" stroke="#555" stroke-width="1.8" filter="url(#b07)"/>
<path d="M31.0,61.0 C32.5,59.2 37.8,58.4 42.0,58.0 C46.2,57.6 52.1,58.0 56.0,58.5 C59.9,59.0 64.3,59.8 65.6,61.0 C66.9,62.2 65.8,64.7 64.0,66.0 C62.2,67.3 58.3,68.3 55.0,69.0 C51.7,69.7 47.7,70.0 44.0,70.0 C40.3,70.0 35.2,70.5 33.0,69.0 C30.8,67.5 29.5,62.8 31.0,61.0 Z" fill="#b3b3b3" filter="url(#b1)"/>
<ellipse cx="64" cy="71.3" rx="3.2" ry="5.5" fill="#bcbcbc" stroke="#888" stroke-width="1.4" filter="url(#b07)"/>
<ellipse cx="40.4" cy="76.8" rx="2.8" ry="4" fill="#bdbdbd" stroke="#999" stroke-width="1.2" filter="url(#b07)"/>
<path d="M38.8,91.0 C39.8,89.7 42.9,88.8 45.0,89.0 C47.1,89.2 50.4,90.1 51.4,92.0 C52.4,93.9 52.2,99.0 51.0,100.5 C49.8,102.0 46.0,101.6 44.0,101.0 C42.0,100.4 39.9,98.7 39.0,97.0 C38.1,95.3 37.8,92.3 38.8,91.0 Z" fill="#cacaca" filter="url(#b1)"/>
<ellipse cx="53.8" cy="108.7" rx="7.6" ry="3.3" fill="#000" filter="url(#b05)"/>
<ellipse cx="54.6" cy="119.4" rx="2.6" ry="3.4" fill="#999" filter="url(#b07)"/>
<line x1="35.3" y1="68.6" x2="44.1" y2="78.0" stroke="#f00" stroke-width="1.45"/>
<path d="M46.7,80.8 L42.2,79.2 L45.4,76.2 Z" fill="#f00"/>
<line x1="25.4" y1="85.0" x2="39.5" y2="88.8" stroke="#f00" stroke-width="1.45"/>
<path d="M43.2,89.8 L38.5,90.8 L39.6,86.6 Z" fill="#f00"/>
<line x1="64.8" y1="81.6" x2="51.6" y2="86.6" stroke="#f00" stroke-width="1.45"/>
<path d="M48.0,87.9 L51.3,84.3 L52.8,88.5 Z" fill="#f00"/>
</g>
<rect x="0" y="0" width="106.9" height="131.5" fill="none" stroke="#727272" stroke-width="1"/>
</g>
<clipPath id="c31"><rect x="0" y="0" width="106.2" height="131.5"/></clipPath>
<g transform="translate(415.5,571.5)"><g clip-path="url(#c31)">
<path d="M20.0,-4.0 C29.0,-6.1 75.0,-7.6 84.0,-4.0 C93.0,-0.4 80.7,12.6 80.0,20.0 C79.3,27.4 79.6,38.7 79.3,45.0 C79.0,51.3 78.5,57.4 78.0,62.0 C77.5,66.6 76.6,70.5 76.0,75.5 C75.4,80.5 74.6,89.1 74.0,95.0 C73.4,100.9 72.5,109.3 72.0,115.0 C71.5,120.7 72.5,130.3 70.4,133.0 C68.3,135.7 60.2,137.9 57.8,133.0 C55.4,128.1 55.6,106.2 54.7,100.0 C53.8,93.8 53.2,92.0 52.0,92.0 C50.8,92.0 47.8,93.8 46.8,100.0 C45.8,106.2 47.3,128.1 45.2,133.0 C43.1,137.9 35.0,137.9 32.6,133.0 C30.2,128.1 30.2,108.0 29.5,100.0 C28.8,92.0 28.5,85.7 28.0,80.0 C27.5,74.3 26.6,69.5 26.4,62.0 C26.2,54.5 26.8,37.8 26.4,30.0 C26.0,22.2 25.0,15.1 24.0,10.0 C23.0,4.9 11.0,-1.9 20.0,-4.0 Z" fill="#ececec" filter="url(#b2)"/>
<path d="M18.0,2.0 C15.6,3.9 13.1,13.5 11.3,18.9 C9.5,24.3 6.7,32.1 5.7,37.8 C4.7,43.5 4.0,50.9 4.7,56.6 C5.4,62.3 8.9,71.2 10.4,75.5 C11.9,79.8 13.7,82.2 15.0,85.0 C16.3,87.8 17.5,92.2 18.9,94.4 C20.2,96.6 22.3,99.3 24.0,99.5 C25.7,99.7 29.8,98.2 30.2,96.0 C30.6,93.8 27.8,88.1 26.4,85.0 C25.0,81.9 22.2,79.8 20.8,75.5 C19.4,71.2 17.4,62.3 17.0,56.6 C16.6,50.9 16.8,43.5 17.9,37.8 C19.0,32.1 23.1,23.7 24.5,18.9 C25.9,14.1 28.0,8.5 27.0,6.0 C26.0,3.5 20.4,0.1 18.0,2.0 Z" fill="#eeeeee" filter="url(#b1)"/>
<path d="M86.0,2.0 C88.5,3.9 92.0,13.5 94.4,18.9 C96.8,24.3 100.6,32.1 102.0,37.8 C103.4,43.5 104.0,50.9 103.5,56.6 C103.0,62.3 100.4,71.0 99.0,75.5 C97.6,80.0 96.1,84.1 94.4,86.9 C92.8,89.7 89.9,92.6 88.0,94.0 C86.1,95.4 83.3,96.6 82.0,96.3 C80.7,96.0 79.4,93.4 79.3,92.0 C79.2,90.6 79.8,89.4 81.2,86.9 C82.6,84.4 87.0,80.0 88.7,75.5 C90.4,71.0 92.3,62.3 92.5,56.6 C92.7,50.9 91.1,43.5 89.7,37.8 C88.3,32.1 84.8,23.7 83.0,18.9 C81.2,14.1 77.5,8.5 78.0,6.0 C78.5,3.5 83.5,0.1 86.0,2.0 Z" fill="#eeeeee" filter="url(#b1)"/>
<ellipse cx="54.8" cy="18.9" rx="6" ry="8" fill="#c4c4c4" filter="url(#b1)"/>
<ellipse cx="62.3" cy="26.4" rx="5.2" ry="3.8" fill="#050505" filter="url(#b05)"/>
<path d="M30.0,32.0 C31.8,30.2 36.3,29.2 40.0,29.0 C43.7,28.8 49.7,29.7 52.0,31.0 C54.3,32.3 54.3,35.0 54.0,37.0 C53.7,39.0 52.0,41.5 50.0,43.0 C48.0,44.5 44.8,45.7 42.0,46.0 C39.2,46.3 35.1,46.0 33.0,45.0 C30.9,44.0 30.0,42.2 29.5,40.0 C29.0,37.8 28.2,33.8 30.0,32.0 Z" fill="#b3b3b3" filter="url(#b1)"/>
<ellipse cx="43.4" cy="39.6" rx="3" ry="3" fill="#bbb" stroke="#999" stroke-width="1.2" filter="url(#b07)"/>
<ellipse cx="64.2" cy="39.6" rx="3" ry="3.5" fill="#bbb" stroke="#999" stroke-width="1.2" filter="url(#b07)"/>
<ellipse cx="70" cy="34" rx="3.2" ry="3.2" fill="#c0c0c0" filter="url(#b1)"/>
<path d="M36.0,45.0 C38.2,42.2 45.3,43.2 50.0,43.0 C54.7,42.8 60.3,43.2 64.0,44.0 C67.7,44.8 70.7,45.3 72.0,48.0 C73.3,50.7 72.7,56.2 72.0,60.0 C71.3,63.8 70.8,68.8 68.0,71.0 C65.2,73.2 59.3,73.0 55.0,73.0 C50.7,73.0 45.0,73.2 42.0,71.0 C39.0,68.8 38.0,64.3 37.0,60.0 C36.0,55.7 33.8,47.8 36.0,45.0 Z" fill="#cdcdcd" filter="url(#b1)"/>
<ellipse cx="52.9" cy="75.2" rx="5.2" ry="2.4" fill="#000" filter="url(#b05)"/>
<ellipse cx="51.5" cy="88.7" rx="2.6" ry="3" fill="#a8a8a8" filter="url(#b07)"/>
<ellipse cx="98.8" cy="61.1" rx="1.5" ry="2.5" fill="#111" filter="url(#b05)"/>
<ellipse cx="96" cy="71.5" rx="1" ry="2.2" fill="#111" filter="url(#b05)" transform="rotate(20 96 71.5)"/>
<ellipse cx="36.5" cy="125.4" rx="1.1" ry="1.1" fill="#111" filter="url(#b05)"/>
<ellipse cx="45" cy="18" rx="0.8" ry="0.8" fill="#555" filter="url(#b05)"/>
<ellipse cx="47" cy="20" rx="0.8" ry="0.8" fill="#555" filter="url(#b05)"/>
<ellipse cx="44" cy="22" rx="0.8" ry="0.8" fill="#555" filter="url(#b05)"/>
<ellipse cx="58" cy="17" rx="0.8" ry="0.8" fill="#555" filter="url(#b05)"/>
<line x1="65.1" y1="11.0" x2="79.2" y2="12.4" stroke="#f00" stroke-width="1.45"/>
<path d="M83.0,12.8 L78.5,14.6 L78.9,10.2 Z" fill="#f00"/>
<line x1="60.7" y1="83.5" x2="69.6" y2="94.1" stroke="#f00" stroke-width="1.45"/>
<path d="M72.0,97.0 L67.6,95.1 L70.9,92.3 Z" fill="#f00"/>
</g>
<rect x="0" y="0" width="106.2" height="131.5" fill="none" stroke="#727272" stroke-width="1"/>
</g>
<clipPath id="c41"><rect x="0" y="0" width="104.6" height="131.5"/></clipPath>
<g transform="translate(535,571.5)"><g clip-path="url(#c41)">
<path d="M1.5,-4.0 C-11.9,-1.1 8.1,10.8 10.5,15.3 C12.9,19.8 15.9,22.3 17.5,25.8 C19.1,29.3 19.9,33.8 21.0,38.9 C22.1,44.0 23.5,54.1 24.5,59.5 C25.5,64.9 27.0,68.9 27.4,75.0 C27.8,81.1 27.4,91.0 27.4,100.0 C27.4,109.0 18.6,129.8 27.4,135.0 C36.2,140.2 77.3,140.2 86.0,135.0 C94.7,129.8 85.4,109.0 85.5,100.0 C85.6,91.0 86.7,81.1 86.5,75.0 C86.3,68.9 84.2,64.9 84.4,59.5 C84.6,54.1 86.9,44.0 87.9,38.9 C89.0,33.8 90.2,29.7 91.4,25.8 C92.6,21.9 94.5,17.1 95.8,12.6 C97.1,8.1 114.1,-1.5 100.0,-4.0 C85.9,-6.5 14.9,-6.9 1.5,-4.0 Z" fill="#e9e9e9" filter="url(#b2)"/>
<path d="M22.0,-4.0 C23.7,-6.0 37.7,-5.7 41.0,-4.0 C44.3,-2.3 42.1,3.1 42.0,6.0 C41.9,8.9 42.1,13.2 40.3,13.5 C38.5,13.8 34.0,10.9 31.0,8.0 C27.9,5.1 20.3,-2.0 22.0,-4.0 Z" fill="#fafafa" filter="url(#b2)"/>
<path d="M63.4,-4.0 C66.7,-5.7 81.9,-5.7 84.0,-4.0 C86.1,-2.3 79.0,2.9 76.0,6.0 C73.0,9.1 68.0,14.4 66.0,14.4 C64.0,14.4 64.4,9.1 64.0,6.0 C63.6,2.9 60.1,-2.3 63.4,-4.0 Z" fill="#fafafa" filter="url(#b2)"/>
<ellipse cx="53" cy="0" rx="9.6" ry="5.6" fill="#080808" filter="url(#b05)"/>
<ellipse cx="53.5" cy="12.5" rx="6.5" ry="4.5" fill="#c6c6c6" filter="url(#b1)"/>
<ellipse cx="48.6" cy="22.4" rx="1.6" ry="1.6" fill="#080808" filter="url(#b05)"/>
<ellipse cx="31.1" cy="32.6" rx="1.1" ry="1.1" fill="#333" filter="url(#b05)"/>
<ellipse cx="49" cy="13" rx="1" ry="1" fill="#555" filter="url(#b05)"/>
<ellipse cx="55" cy="13" rx="1" ry="1" fill="#555" filter="url(#b05)"/>
<ellipse cx="59" cy="13.5" rx="1" ry="1" fill="#666" filter="url(#b05)"/>
<ellipse cx="51.5" cy="15" rx="0.9" ry="0.9" fill="#666" filter="url(#b05)"/>
<path d="M48.5,28.4 C49.8,26.7 53.4,27.2 56.0,28.0 C58.6,28.8 61.9,30.7 64.0,33.0 C66.1,35.3 68.3,39.4 68.6,42.0 C68.9,44.6 67.8,47.3 66.0,48.5 C64.2,49.7 60.5,49.4 58.0,49.0 C55.5,48.6 52.7,47.8 51.0,46.0 C49.3,44.2 48.4,40.9 48.0,38.0 C47.6,35.1 47.2,30.1 48.5,28.4 Z" fill="#bdbdbd" filter="url(#b1)"/>
<path d="M36.0,45.0 C37.6,42.8 42.2,43.0 45.0,43.0 C47.8,43.0 50.7,42.5 52.5,45.0 C54.3,47.5 55.4,53.8 55.8,58.0 C56.2,62.2 56.0,67.1 55.0,70.0 C54.0,72.9 52.2,74.5 50.0,75.3 C47.8,76.1 44.3,76.2 42.0,75.0 C39.7,73.8 37.1,71.2 36.0,68.0 C34.9,64.8 35.3,59.8 35.3,56.0 C35.3,52.2 34.4,47.2 36.0,45.0 Z" fill="#aaaaaa" filter="url(#b1)"/>
<path d="M65.0,51.2 C66.0,48.6 69.9,49.7 72.0,50.5 C74.1,51.3 76.9,53.4 77.8,56.0 C78.7,58.6 78.5,63.8 77.5,66.0 C76.5,68.2 73.9,69.0 72.0,69.0 C70.1,69.0 67.2,69.0 66.0,66.0 C64.8,63.0 64.0,53.8 65.0,51.2 Z" fill="#b0b0b0" filter="url(#b1)"/>
<ellipse cx="47.9" cy="73.7" rx="3.2" ry="5.6" fill="#b5b5b5" stroke="#8a8a8a" stroke-width="1.6" filter="url(#b07)"/>
<ellipse cx="68.4" cy="73.7" rx="3.2" ry="5.6" fill="#b5b5b5" stroke="#8a8a8a" stroke-width="1.6" filter="url(#b07)"/>
<path d="M38.4,80.0 C40.3,77.5 45.7,77.3 50.0,77.0 C54.3,76.7 59.9,76.7 64.0,78.0 C68.1,79.3 73.4,81.3 74.7,85.0 C76.0,88.7 74.1,95.8 72.0,100.0 C69.9,104.2 65.7,108.3 62.0,110.0 C58.3,111.7 53.3,111.0 50.0,110.0 C46.7,109.0 43.9,107.0 42.0,104.0 C40.1,101.0 39.0,96.0 38.4,92.0 C37.8,88.0 36.5,82.5 38.4,80.0 Z" fill="#d6d6d6" filter="url(#b1)"/>
<path d="M40,84 Q44,95 42,104" stroke="#bbb" stroke-width="1" fill="none" filter="url(#b05)"/>
<ellipse cx="56.1" cy="114.7" rx="7.5" ry="3.9" fill="#000" filter="url(#b05)"/>
<ellipse cx="55.8" cy="122.6" rx="2.5" ry="3" fill="#a5a5a5" filter="url(#b07)"/>
<ellipse cx="42.4" cy="106.5" rx="1.2" ry="1.2" fill="#111" filter="url(#b05)"/>
<line x1="32.8" y1="27.1" x2="43.9" y2="18.1" stroke="#f00" stroke-width="1.45"/>
<path d="M46.8,15.7 L44.9,20.1 L42.1,16.7 Z" fill="#f00"/>
<line x1="61.6" y1="35.4" x2="55.9" y2="23.9" stroke="#f00" stroke-width="1.45"/>
<path d="M54.2,20.5 L58.1,23.4 L54.1,25.3 Z" fill="#f00"/>
<line x1="77.8" y1="20.5" x2="63.1" y2="16.7" stroke="#f00" stroke-width="1.45"/>
<path d="M59.4,15.7 L64.1,14.7 L63.0,18.9 Z" fill="#f00"/>
</g>
<rect x="0" y="0" width="104.6" height="131.5" fill="none" stroke="#727272" stroke-width="1"/>
</g>
<text x="50.3" y="422.2" class="pl">e</text>
<text x="115.5" y="422.3" class="hd" text-anchor="middle">Patient 1 (CR)</text>
<text x="233.9" y="422.3" class="hd" text-anchor="middle">Patient 5 (CR)</text>
<text x="351.1" y="422.3" class="hd" text-anchor="middle">Patient 6 (CR)</text>
<text x="468.6" y="422.3" class="hd" text-anchor="middle">Patient 7 (CR)</text>
<text x="587.3" y="422.3" class="hd" text-anchor="middle">Patient 3 (PR)</text>
<text transform="translate(58.6,492.5) rotate(-90)" class="hd" style="font-size:9px" text-anchor="middle">Pre-infusion</text>
<text transform="translate(59.3,637.5) rotate(-90)" class="hd" style="font-size:9px" text-anchor="middle">1 month after treatment</text>
</svg>
</body></html>
